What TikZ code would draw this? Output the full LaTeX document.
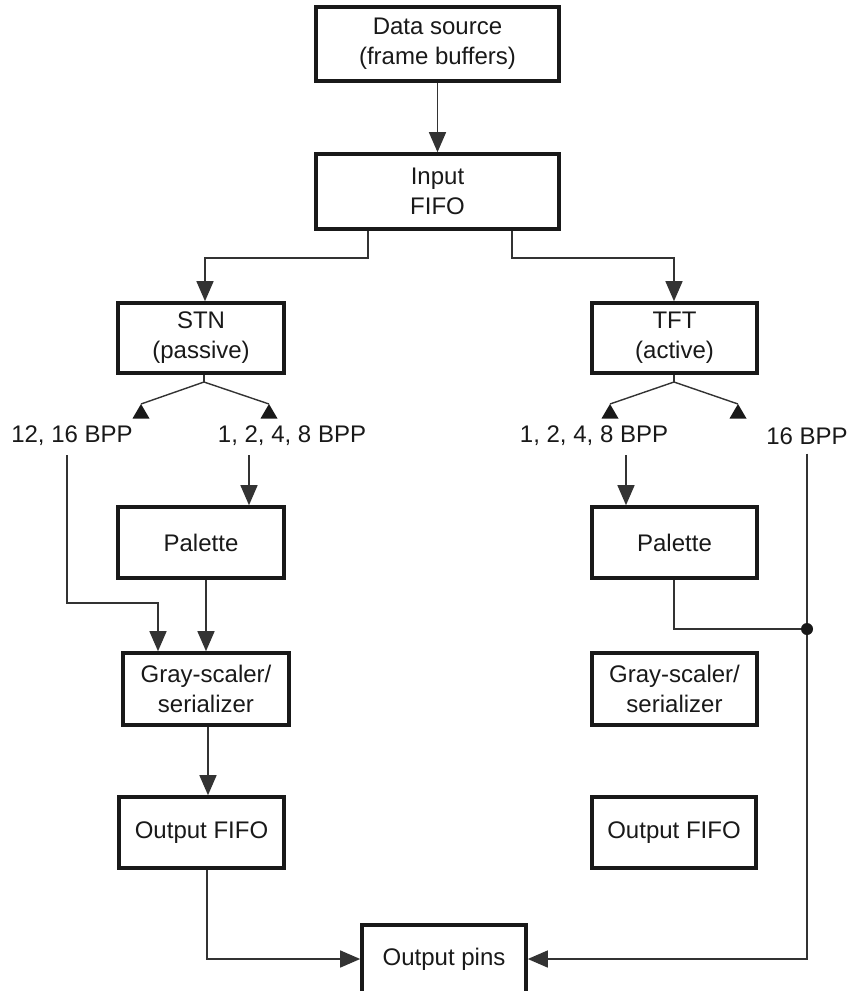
\documentclass[tikz,border=0pt]{standalone}
\usepackage{fontspec}
\setmainfont{Liberation Sans}
\usetikzlibrary{arrows.meta}
\begin{document}
\begin{tikzpicture}[x=1bp,y=-1bp,
  every node/.style={font=\fontsize{24bp}{30bp}\selectfont, text=black!90},
  blk/.style={draw=black!90, line width=3.6bp, align=center, inner sep=0pt},
  lbl/.style={inner sep=0pt},
  conn/.style={draw=black!80, line width=1.4bp},
  arr/.style={conn, -{Triangle[length=20bp,width=17bp]}},
  utri/.style={fill=black!90}
]
\useasboundingbox (0,0) rectangle (849,991);

% boxes
\node[blk, minimum width=243bp, minimum height=74bp] (ds) at (437.5,44) {Data source\\(frame buffers)};
\node[blk, minimum width=243bp, minimum height=75bp] (inf) at (437.5,191.5) {Input\\FIFO};
\node[blk, minimum width=166bp, minimum height=70bp] (stn) at (201,338) {STN\\(passive)};
\node[blk, minimum width=165bp, minimum height=70bp] (tft) at (674.5,338) {TFT\\(active)};
\node[blk, minimum width=166bp, minimum height=71bp] (palL) at (201,542.5) {Palette};
\node[blk, minimum width=165bp, minimum height=71bp] (palR) at (674.5,542.5) {Palette};
\node[blk, minimum width=166bp, minimum height=72bp] (gsL) at (206,689) {Gray-scaler/\\serializer};
\node[blk, minimum width=165bp, minimum height=72bp] (gsR) at (674.5,689) {Gray-scaler/\\serializer};
\node[blk, minimum width=165bp, minimum height=71bp] (ofL) at (201.5,832.5) {Output FIFO};
\node[blk, minimum width=164bp, minimum height=71bp] (ofR) at (674,832.5) {Output FIFO};
\node[blk, minimum width=164bp, minimum height=68bp] (op) at (444,959) {Output pins};

% labels
\node[lbl] (l1216) at (72,436) {12, 16 BPP};
\node[lbl] (l1248L) at (292,436) {1, 2, 4, 8 BPP};
\node[lbl] (l1248R) at (594,436) {1, 2, 4, 8 BPP};
\node[lbl] (l16) at (807,436) {16 BPP};

% helper coordinates
\coordinate (stnsplit) at (204,382);
\coordinate (tftsplit) at (674,382);
\coordinate (aSL) at (141,404);
\coordinate (aSR) at (269,404);
\coordinate (aTL) at (610,404);
\coordinate (aTR) at (738,404);
\coordinate (dot) at (807,629);

% data source -> input fifo
\draw[arr] (ds.south) -- (inf.north);
% input fifo -> stn / tft
\draw[arr] (inf.south -| 368,0) -- (368,258) -- (205,258) -- (stn.north -| 205,0);
\draw[arr] (inf.south -| 512,0) -- (512,258) -- (674,258) -- (tft.north -| 674,0);

% splits
\draw[conn] (stn.south -| stnsplit) -- (stnsplit);
\draw[conn] (stnsplit) -- (aSL);
\draw[conn] (stnsplit) -- (aSR);
\draw[conn] (tft.south -| tftsplit) -- (tftsplit);
\draw[conn] (tftsplit) -- (aTL);
\draw[conn] (tftsplit) -- (aTR);
\foreach \p in {aSL,aSR,aTL,aTR}
  \fill[utri] (\p) -- ++(-8.5,14.5) -- ++(17,0) -- cycle;

% STN side
\draw[arr] (l1216.south -| 67,0) ++(0,9) -- (67,603) -- (158,603) -- (gsL.north -| 158,0);
\draw[arr] (l1248L.south -| 249,0) ++(0,9) -- (palL.north -| 249,0);
\draw[arr] (palL.south -| 206,0) -- (gsL.north -| 206,0);
\draw[arr] (gsL.south -| 208,0) -- (ofL.north -| 208,0);
\draw[arr] (ofL.south -| 207,0) -- (207,959) -- (op.west);

% TFT side
\draw[arr] (l1248R.south -| 626,0) ++(0,9) -- (palR.north -| 626,0);
\draw[conn] (palR.south -| 674,0) -- (674,629) -- (dot);
\draw[arr] (l16.south -| 807,0) ++(0,9) -- (807,959) -- (op.east);
\fill[black!90] (dot) circle (6bp);
\end{tikzpicture}
\end{document}
